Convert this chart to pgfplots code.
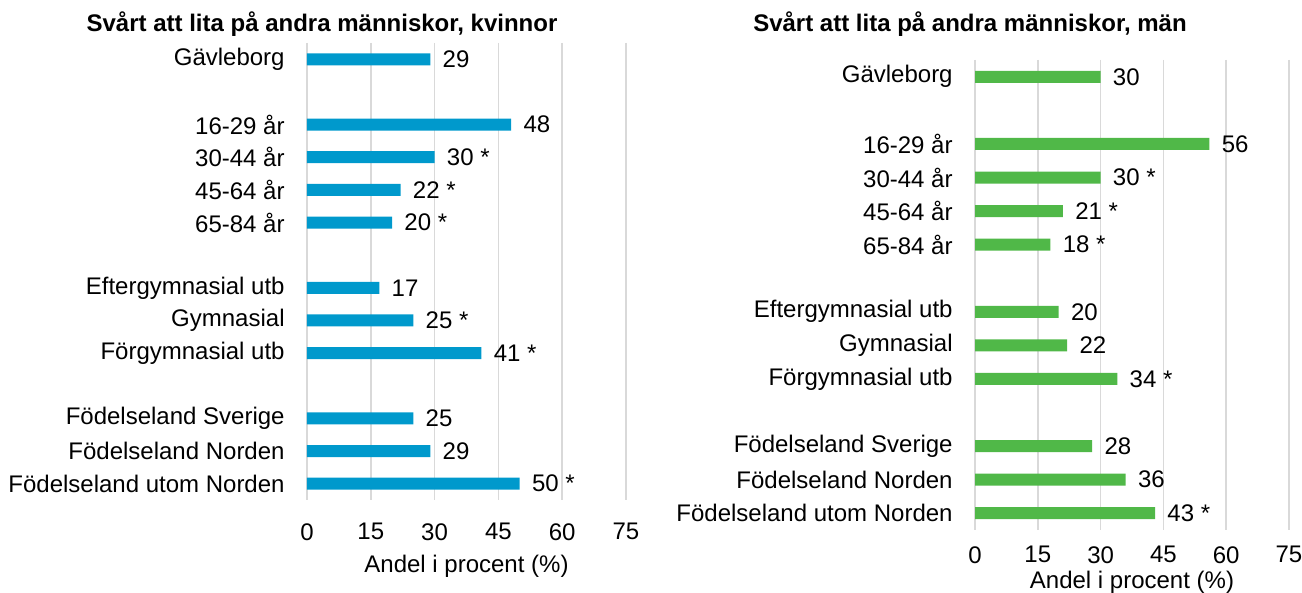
\documentclass[border=0pt]{standalone}
\usepackage{fontspec}
\setmainfont{Liberation Sans}
\usepackage{pgfplots}
\pgfplotsset{compat=1.18}
\usepackage{pgfplotstable}

\definecolor{kblue}{RGB}{0,153,204}
\definecolor{mgreen}{RGB}{80,184,72}
\definecolor{gridgray}{RGB}{217,217,217}

% slot positions: gaps at 1, 6, 10
\pgfplotstableread[col sep=comma]{
pos,v,lab
0,29,29
2,48,48
3,30,30 *
4,22,22 *
5,20,20 *
7,17,17
8,25,25 *
9,41,41 *
11,25,25
12,29,29
13,50,50 *
}\kvinnor

\pgfplotstableread[col sep=comma]{
pos,v,lab
0,30,30
2,56,56
3,30,30 *
4,21,21 *
5,18,18 *
7,20,20
8,22,22
9,34,34 *
11,28,28
12,36,36
13,43,43 *
}\man

\pgfplotsset{
  barpanel/.style={
    scale only axis,
    clip=false,
    xmin=0, xmax=75,
    ymin=-0.5, ymax=13.5,
    y dir=reverse,
    xtick={0,15,...,75},
    ytick={0,2,3,4,5,7,8,9,11,12,13},
    yticklabels={Gävleborg,16-29 år,30-44 år,45-64 år,65-84 år,
      Eftergymnasial utb,Gymnasial,Förgymnasial utb,
      Födelseland Sverige,Födelseland Norden,Födelseland utom Norden},
    xmajorgrids,
    grid style={draw=gridgray, line width=0.8pt},
    axis line style={draw=none},
    major tick style={draw=none},
    font=\fontsize{12}{14}\selectfont,
    /pgf/number format/assume math mode=true,
    yticklabel style={anchor=east, inner sep=0pt, xshift=-11pt},
    xticklabel style={anchor=north, inner sep=0pt},
    xlabel={Andel i procent (\%)},
    xlabel style={at={(0.5,0)}, anchor=north, inner sep=0pt},
    nodes near coords,
    point meta=explicit symbolic,
    every node near coord/.append style={anchor=west, inner sep=0pt, xshift=6pt, font=\fontsize{12}{14}\selectfont, text=black},
  },
}

\begin{document}
\begin{tikzpicture}
\useasboundingbox (0,0) rectangle (651pt,296.5pt);

\begin{axis}[barpanel,
  at={(153.5pt,46.5pt)}, anchor=south west,
  width=159.5pt, height=228.5pt,
  xticklabel style={yshift=-11.5pt},
  xlabel style={yshift=-27.5pt},
]
\addplot[xbar, fill=kblue, draw=none, bar width=6pt]
  table[x=v, y=pos, meta=lab] {\kvinnor};
\end{axis}

\begin{axis}[barpanel,
  at={(487.5pt,31.5pt)}, anchor=south west,
  width=157pt, height=235pt,
  xticklabel style={yshift=-8pt},
  xlabel style={yshift=-20.5pt},
]
\addplot[xbar, fill=mgreen, draw=none, bar width=6pt]
  table[x=v, y=pos, meta=lab] {\man};
\end{axis}

\node[font=\fontsize{12}{14}\selectfont\bfseries, anchor=base] at (161pt,280.5pt)
  {Svårt att lita på andra människor, kvinnor};
\node[font=\fontsize{12}{14}\selectfont\bfseries, anchor=base] at (485pt,280.5pt)
  {Svårt att lita på andra människor, män};
\end{tikzpicture}
\end{document}
